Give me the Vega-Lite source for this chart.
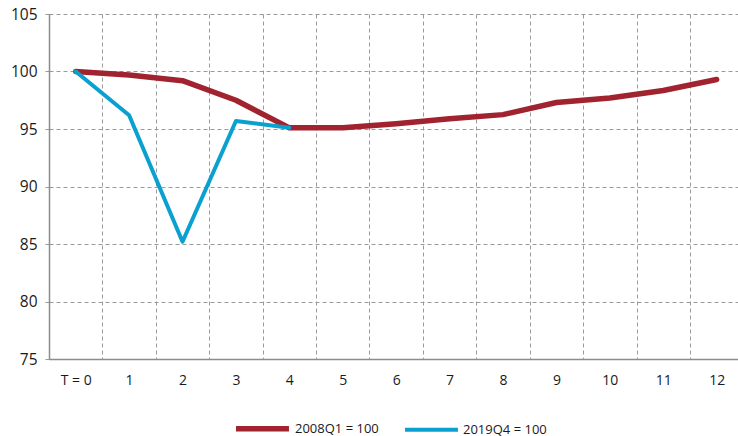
{
  "$schema": "https://vega.github.io/schema/vega-lite/v6.json",
  "width": 689,
  "height": 345,
  "autosize": {"type": "none"},
  "padding": {"left": 49, "top": 14, "right": 0, "bottom": 77},
  "config": {
    "view": {"stroke": null},
    "font": "Open Sans",
    "axis": {
      "labelFont": "Open Sans",
      "labelFontSize": 14,
      "labelColor": "#1a1a1a",
      "domainColor": "#8c8c8c",
      "domainWidth": 1.5,
      "gridColor": "#9a9a9a",
      "gridDash": [4, 3],
      "gridWidth": 1,
      "title": null
    },
    "legend": {
      "labelFont": "Open Sans",
      "labelFontSize": 13,
      "labelColor": "#1a1a1a"
    }
  },
  "data": {
    "values": [
      {"T": 0, "series": "2008Q1 = 100", "value": 100},
      {"T": 1, "series": "2008Q1 = 100", "value": 99.7},
      {"T": 2, "series": "2008Q1 = 100", "value": 99.2},
      {"T": 3, "series": "2008Q1 = 100", "value": 97.5},
      {"T": 4, "series": "2008Q1 = 100", "value": 95.1},
      {"T": 5, "series": "2008Q1 = 100", "value": 95.1},
      {"T": 6, "series": "2008Q1 = 100", "value": 95.45},
      {"T": 7, "series": "2008Q1 = 100", "value": 95.9},
      {"T": 8, "series": "2008Q1 = 100", "value": 96.25},
      {"T": 9, "series": "2008Q1 = 100", "value": 97.3},
      {"T": 10, "series": "2008Q1 = 100", "value": 97.7},
      {"T": 11, "series": "2008Q1 = 100", "value": 98.35},
      {"T": 12, "series": "2008Q1 = 100", "value": 99.3},
      {"T": 0, "series": "2019Q4 = 100", "value": 100},
      {"T": 1, "series": "2019Q4 = 100", "value": 96.2},
      {"T": 2, "series": "2019Q4 = 100", "value": 85.2},
      {"T": 3, "series": "2019Q4 = 100", "value": 95.7},
      {"T": 4, "series": "2019Q4 = 100", "value": 95.1}
    ]
  },
  "mark": {"type": "line", "strokeCap": "round", "strokeJoin": "round"},
  "encoding": {
    "x": {
      "field": "T",
      "type": "quantitative",
      "scale": {"domain": [-0.5, 12.4], "nice": false, "zero": false},
      "axis": {
        "values": [-0.5, 0.5, 1.5, 2.5, 3.5, 4.5, 5.5, 6.5, 7.5, 8.5, 9.5, 10.5, 11.5],
        "grid": true,
        "ticks": false,
        "labelOffset": 26.7,
        "labelPadding": 14,
        "labelOverlap": false,
        "labelFlush": false,
        "labelBound": false,
        "labelExpr": "datum.value < 0 ? 'T  = 0' : format(datum.value + 0.5, 'd')"
      }
    },
    "y": {
      "field": "value",
      "type": "quantitative",
      "scale": {"domain": [75, 105], "nice": false, "zero": false},
      "axis": {
        "values": [75, 80, 85, 90, 95, 100, 105],
        "grid": true,
        "ticks": true,
        "tickSize": 6,
        "tickColor": "#9a9a9a",
        "tickDash": [4, 3],
        "labelPadding": 6,
        "labelFontSize": 15.5
      }
    },
    "color": {
      "field": "series",
      "type": "nominal",
      "scale": {
        "domain": ["2008Q1 = 100", "2019Q4 = 100"],
        "range": ["#a0232f", "#0aa0cf"]
      },
      "legend": {
        "orient": "none",
        "legendX": 184,
        "legendY": 385,
        "direction": "horizontal",
        "title": null,
        "symbolType": "stroke",
        "symbolSize": 2800,
        "symbolStrokeWidth": 5,
        "columnPadding": 18,
        "labelOffset": 3
      }
    },
    "strokeWidth": {
      "field": "series",
      "type": "nominal",
      "scale": {
        "domain": ["2008Q1 = 100", "2019Q4 = 100"],
        "range": [5.5, 4]
      },
      "legend": null
    }
  }
}
